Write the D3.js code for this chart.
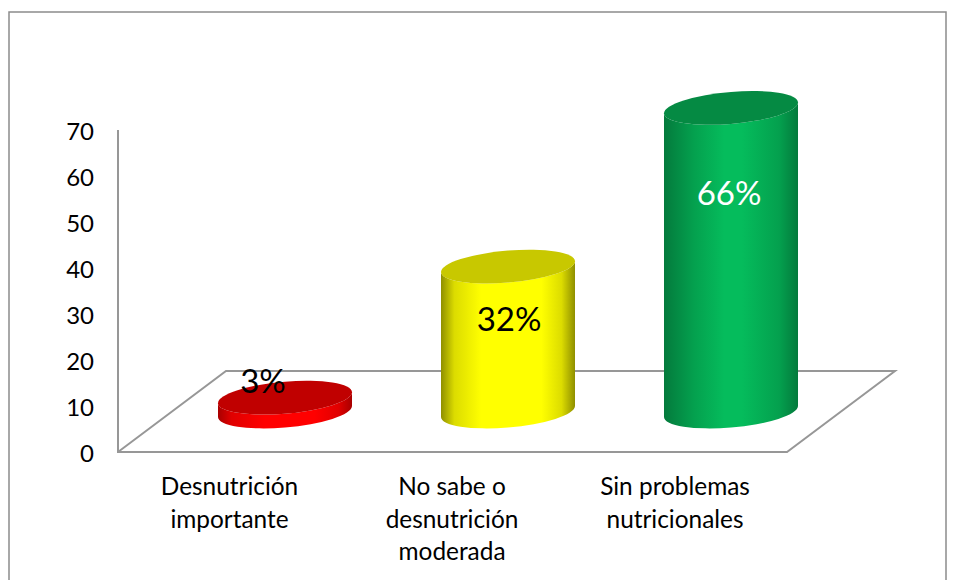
<!DOCTYPE html>
<html><head><meta charset="utf-8">
<script src="https://cdn.jsdelivr.net/npm/d3@7"></script>
<style>html,body{margin:0;padding:0;background:#fff}svg{display:block}</style>
</head><body><div id="c"></div>
<script>
const categories = [["Desnutrición","importante"],["No sabe o","desnutrición","moderada"],["Sin problemas","nutricionales"]];
const values = [3, 31.5, 66];
const valueLabels = ["3%","32%","66%"];
const tickValues = [0,10,20,30,40,50,60,70];
const palette = [
 {edge:"#a80000",near:"#e00000",mid:"#ff0000",top:"#c00000",text:"#000",stops:[0,.1,.35,.72,.9,1]},
 {edge:"#8f8f00",near:"#dcdc00",mid:"#ffff00",top:"#c8c800",text:"#000",stops:[0,.1,.3,.75,.9,1]},
 {edge:"#047a3c",near:"#04a04e",mid:"#05bc5c",top:"#058a43",text:"#fff",stops:[0,.22,.45,.58,.86,1]}];
const W=956,H=580, font="Lato, 'Open Sans', sans-serif", grey="#979797";
const svg=d3.select("#c").append("svg").attr("width",W).attr("height",H);
const y=d3.scaleLinear().domain([0,70]).range([452,130]);
const x=d3.scaleBand().domain([0,1,2]).range([118,787]);
const depthX=108, depthY=-81;
// frame
svg.append("path").attr("d",`M9,${H} V12 H946 V${H}`).attr("fill","none").attr("stroke","#8c8c8c").attr("stroke-width",1.5);
// floor + wall
const x0=x.range()[0],x1=x.range()[1],y0=y(0);
svg.append("path").attr("d",`M${x0},${y(70)} V${y0} H${x1} L${x1+depthX},${y0+depthY} H${x0+depthX} L${x0},${y0}`)
 .attr("fill","none").attr("stroke",grey).attr("stroke-width",2);
// ticks
svg.selectAll("text.tick").data(tickValues).join("text").attr("class","tick")
 .attr("x",94).attr("y",d=>y(d)+1.5).attr("dy","0.36em").attr("text-anchor","end")
 .attr("font-family",font).attr("font-size",24).attr("fill","#000").text(d=>d);
// gradients
const defs=svg.append("defs");
palette.forEach((p,i)=>{
 const g=defs.append("linearGradient").attr("id","g"+i).attr("x1",0).attr("x2",1).attr("y1",0).attr("y2",0);
 [p.edge,p.near,p.mid,p.mid,p.near,p.edge].forEach((c,j)=>g.append("stop").attr("offset",p.stops[j]).attr("stop-color",c));
});
const rx=67, ry=16, k=0.081;
const baseY=411.5, depthShift=55.5;
const cx=i=>x(i)+x.bandwidth()/2+depthShift;
const h=d=>y(0)-y(d);
const bars=svg.selectAll("g.bar").data(values).join("g").attr("class","bar")
 .attr("transform",(d,i)=>`matrix(1,${-k},0,1,${cx(i)},${baseY})`);
bars.append("path").attr("fill",(d,i)=>`url(#g${i})`)
 .attr("d",d=>`M${-rx},${-h(d)} A${rx},${ry} 0 0 0 ${rx},${-h(d)} V0 A${rx},${ry} 0 0 1 ${-rx},0 Z`);
bars.append("ellipse").attr("cx",0).attr("cy",d=>-h(d)).attr("rx",rx).attr("ry",ry).attr("fill",(d,i)=>palette[i].top);
// labels
const labelOffset=[-22,1,-2];
const labelBaseline=[393,331,205];
svg.selectAll("text.val").data(values).join("text").attr("class","val")
 .attr("x",(d,i)=>cx(i)+labelOffset[i]).attr("y",(d,i)=>labelBaseline[i])
 .attr("text-anchor","middle").attr("font-family",font).attr("font-size",33)
 .attr("fill",(d,i)=>palette[i].text).text((d,i)=>valueLabels[i]);
// categories
const cat=svg.selectAll("text.cat").data(categories).join("text").attr("class","cat")
 .attr("text-anchor","middle").attr("font-family",font).attr("font-size",24.4).attr("fill","#000");
cat.selectAll("tspan").data((d,i)=>d.map(t=>({t,i}))).join("tspan")
 .attr("x",d=>[229.5,452,675][d.i]).attr("y",(d,j)=>495+j*32.5).text(d=>d.t);
</script></body></html>
